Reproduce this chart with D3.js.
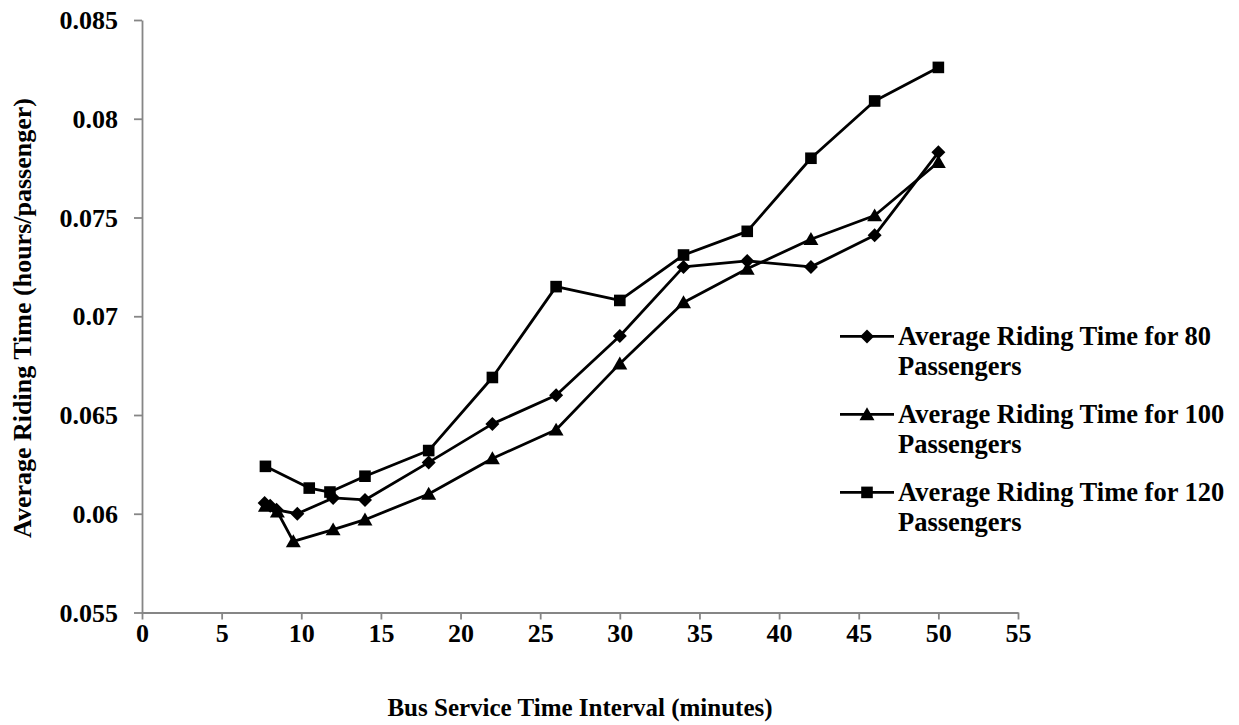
<!DOCTYPE html>
<html><head><meta charset="utf-8">
<script src="https://cdn.jsdelivr.net/npm/d3@7"></script>
<style>body{margin:0;background:#fff}svg{display:block}text{font-family:"Liberation Serif","Times New Roman",serif;font-weight:bold;fill:#000}</style>
</head><body><svg id="c" width="1239" height="725"></svg>
<script>
const xTicks = [0,5,10,15,20,25,30,35,40,45,50,55];
const yTicks = [0.055,0.06,0.065,0.07,0.075,0.08,0.085];
const xTitle = "Bus Service Time Interval (minutes)";
const yTitle = "Average Riding Time (hours/passenger)";
const legendLines = [["Average Riding Time for 80","Passengers"],["Average Riding Time for 100","Passengers"],["Average Riding Time for 120","Passengers"]];
const x80 = [7.7, 8.05, 8.45, 9.75, 12, 14, 18, 22, 26, 30, 34, 38, 42, 46, 50];
const y80 = [0.06055, 0.0604, 0.0602, 0.0600, 0.0608, 0.0607, 0.0626, 0.06455, 0.0660, 0.0690, 0.0725, 0.0728, 0.0725, 0.0741, 0.0783];
const x100 = [7.75, 8.5, 9.5, 12, 14, 18, 22, 26, 30, 34, 38, 42, 46, 50];
const y100 = [0.0604, 0.0601, 0.0586, 0.0592, 0.0597, 0.0610, 0.0628, 0.06425, 0.0676, 0.0707, 0.0724, 0.0739, 0.0751, 0.0778];
const x120 = [7.75, 10.5, 11.8, 14, 18, 22, 26, 30, 34, 38, 42, 46, 50];
const y120 = [0.0624, 0.0613, 0.0611, 0.0619, 0.0632, 0.0669, 0.0715, 0.0708, 0.0731, 0.0743, 0.0780, 0.0809, 0.0826];

const svg = d3.select("#c");
const x = d3.scaleLinear().domain([0,55]).range([142,1018]);
const y = d3.scaleLinear().domain([0.055,0.085]).range([612.5,20]);
const axisColor = "#868686";

// axes
const gx = svg.append("g").attr("transform","translate(0,612.5)")
  .call(d3.axisBottom(x).tickValues(xTicks).tickSize(7).tickSizeOuter(0).tickFormat(d3.format("d")));
const gy = svg.append("g").attr("transform","translate(142,0)")
  .call(d3.axisLeft(y).tickValues(yTicks).tickSize(8).tickSizeOuter(0).tickFormat(d=>String(+d.toFixed(3))));
[gx,gy].forEach(g=>{
  g.attr("font-size",null).attr("font-family",null);
  g.select(".domain").attr("stroke",axisColor).attr("stroke-width",1.8);
  g.selectAll(".tick line").attr("stroke",axisColor).attr("stroke-width",1.8);
  g.selectAll(".tick text").style("font-size","26px").style("font-family","'Liberation Serif', serif").style("font-weight","bold").attr("fill","#000");
});
gx.selectAll(".tick text").attr("dy","0").attr("y",29);
gy.selectAll(".tick text").attr("x",-24).attr("dy","0.33em");

// symbols
const diamond = {draw(ctx,s){const r=s;ctx.moveTo(0,-r);ctx.lineTo(r,0);ctx.lineTo(0,r);ctx.lineTo(-r,0);ctx.closePath();}};
const square = {draw(ctx,s){const r=s;ctx.rect(-r,-r,2*r,2*r);}};
const triangle = {draw(ctx,s){const r=s;ctx.moveTo(0,-r*1.05);ctx.lineTo(r*1.1,r*0.85);ctx.lineTo(-r*1.1,r*0.85);ctx.closePath();}};

const series = [
  {xs:x80, ys:y80, sym:diamond, size:7},
  {xs:x100, ys:y100, sym:triangle, size:6.8},
  {xs:x120, ys:y120, sym:square, size:5.8}
];
const line = d3.line().x(d=>x(d[0])).y(d=>y(d[1]));
series.forEach(s=>{
  const pts = s.xs.map((v,i)=>[v,s.ys[i]]);
  svg.append("path").attr("d",line(pts)).attr("fill","none").attr("stroke","#000").attr("stroke-width",2.8).attr("stroke-linejoin","round");
});
series.forEach(s=>{
  const pts = s.xs.map((v,i)=>[v,s.ys[i]]);
  svg.append("g").selectAll("path").data(pts).join("path")
    .attr("d",d3.symbol().type(s.sym).size(s.size))
    .attr("transform",d=>`translate(${x(d[0])},${y(d[1])})`).attr("fill","#000");
});

// legend
const legBase = [345,423,501];
series.forEach((s,i)=>{
  const g = svg.append("g");
  const ly = legBase[i]-8.6;
  g.append("line").attr("x1",840).attr("x2",894).attr("y1",ly).attr("y2",ly).attr("stroke","#000").attr("stroke-width",2.8);
  g.append("path").attr("d",d3.symbol().type(s.sym).size(s.size)).attr("transform",`translate(867,${ly})`).attr("fill","#000");
  const t = g.append("text").style("font-size","26.5px");
  t.append("tspan").attr("x",898).attr("y",legBase[i]).text(legendLines[i][0]);
  t.append("tspan").attr("x",898).attr("y",legBase[i]+30).text(legendLines[i][1]);
});

// titles
svg.append("text").attr("x",580).attr("y",716).attr("text-anchor","middle").style("font-size","25px").text(xTitle);
svg.append("text").attr("transform","translate(31,318) rotate(-90)").attr("text-anchor","middle").style("font-size","26px").text(yTitle);
</script></body></html>
